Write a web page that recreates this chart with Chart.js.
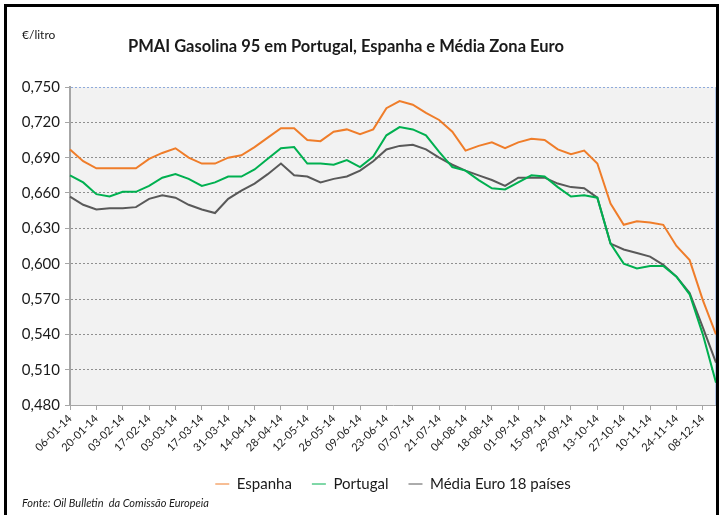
<!DOCTYPE html>
<html>
<head>
<meta charset="utf-8">
<script src="https://cdn.jsdelivr.net/npm/chart.js@4/dist/chart.umd.min.js"></script>
<style>
html,body{margin:0;padding:0;background:#fff;overflow:hidden}
#wrap{position:relative;width:721px;height:515px}
</style>
</head>
<body>
<div id="wrap"><canvas id="c" width="721" height="515"></canvas></div>
<script>
// ---- data (weekly prices, €/litro) ----
const weeks = ["06-01-14","13-01-14","20-01-14","27-01-14","03-02-14","10-02-14","17-02-14","24-02-14",
  "03-03-14","10-03-14","17-03-14","24-03-14","31-03-14","07-04-14","14-04-14","21-04-14","28-04-14",
  "05-05-14","12-05-14","19-05-14","26-05-14","02-06-14","09-06-14","16-06-14","23-06-14","30-06-14",
  "07-07-14","14-07-14","21-07-14","28-07-14","04-08-14","11-08-14","18-08-14","25-08-14","01-09-14",
  "08-09-14","15-09-14","22-09-14","29-09-14","06-10-14","13-10-14","20-10-14","27-10-14","03-11-14",
  "10-11-14","17-11-14","24-11-14","01-12-14","08-12-14","15-12-14"];
const espanha = [0.697,0.687,0.681,0.681,0.681,0.681,0.689,0.694,0.698,0.690,0.685,0.685,0.690,0.692,
  0.699,0.707,0.715,0.715,0.705,0.704,0.712,0.714,0.710,0.714,0.732,0.738,0.735,0.728,0.722,0.712,
  0.696,0.700,0.703,0.698,0.703,0.706,0.705,0.697,0.693,0.696,0.685,0.651,0.633,0.636,0.635,0.633,
  0.615,0.603,0.569,0.540];
const portugal = [0.675,0.669,0.659,0.657,0.661,0.661,0.666,0.673,0.676,0.672,0.666,0.669,0.674,0.674,
  0.680,0.689,0.698,0.699,0.685,0.685,0.684,0.688,0.682,0.691,0.709,0.716,0.714,0.709,0.695,0.682,
  0.679,0.671,0.664,0.663,0.669,0.675,0.674,0.665,0.657,0.658,0.656,0.617,0.600,0.596,0.598,0.598,
  0.589,0.574,0.540,0.499];
const mediaEuro = [0.657,0.650,0.646,0.647,0.647,0.648,0.655,0.658,0.656,0.650,0.646,0.643,0.655,0.662,
  0.668,0.676,0.685,0.675,0.674,0.669,0.672,0.674,0.679,0.687,0.697,0.700,0.701,0.697,0.690,0.684,
  0.679,0.675,0.671,0.666,0.673,0.673,0.673,0.668,0.665,0.664,0.656,0.617,0.612,0.609,0.606,0.599,
  0.589,0.575,0.546,0.516];
const seriesNames = ["Espanha","Portugal","Média Euro 18 países"];
const yMin = 0.48, yMax = 0.75, yStep = 0.03;
const titleText = "PMAI Gasolina 95 em Portugal, Espanha e Média Zona Euro";
const unitText = "€/litro";
const sourceText = "Fonte: Oil Bulletin  da Comissão Europeia";

const FONT = "Lato, 'Open Sans', sans-serif";

const decor = {
  id: 'decor',
  beforeDraw(chart) {
    const {ctx, chartArea: a} = chart;
    ctx.save();
    ctx.fillStyle = '#ffffff';
    ctx.fillRect(0, 0, chart.width, chart.height);
    ctx.fillStyle = '#f2f2f2';
    ctx.fillRect(a.left, a.top, a.right - a.left, a.bottom - a.top);
    ctx.restore();
  },
  beforeDatasetsDraw(chart) {
    const {ctx, chartArea: a} = chart;
    ctx.save();
    ctx.strokeStyle = '#b4c7e7';
    ctx.lineWidth = 2;
    ctx.beginPath();
    ctx.moveTo(a.right, a.top);
    ctx.lineTo(a.right, a.bottom);
    ctx.stroke();
    ctx.restore();
  },
  afterDraw(chart) {
    const ctx = chart.ctx;
    ctx.save();
    ctx.fillStyle = '#1a1a1a';
    ctx.textBaseline = 'middle';
    ctx.textAlign = 'left';
    ctx.font = "bold 16.5px " + FONT;
    ctx.fillText(titleText, 128, 47);
    ctx.font = "12px " + FONT;
    ctx.fillText(unitText, 22, 35);
    ctx.font = "italic 11px " + FONT;
    ctx.fillText(sourceText, 22, 503);
    ctx.strokeStyle = '#000';
    ctx.lineWidth = 3;
    ctx.strokeRect(5.5, 5.5, 712, 530);
    ctx.restore();
  }
};

new Chart(document.getElementById('c'), {
  type: 'line',
  data: {
    labels: weeks,
    datasets: [
      {label: seriesNames[0], data: espanha, borderColor: '#ef7d2a', backgroundColor: '#ef7d2a'},
      {label: seriesNames[1], data: portugal, borderColor: '#00b050', backgroundColor: '#00b050'},
      {label: seriesNames[2], data: mediaEuro, borderColor: '#595959', backgroundColor: '#595959'}
    ]
  },
  options: {
    responsive: false,
    animation: false,
    devicePixelRatio: 1,
    elements: {
      line: {borderWidth: 2, tension: 0, fill: false},
      point: {radius: 0, hoverRadius: 0}
    },
    layout: {padding: {top: 87, left: 0, right: 5, bottom: 13.5}},
    plugins: {
      title: {display: false},
      tooltip: {enabled: false},
      legend: {
        position: 'bottom',
        fullSize: false,
        labels: {
          usePointStyle: true,
          pointStyle: 'line',
          pointStyleWidth: 14,
          padding: 20,
          color: '#1a1a1a',
          font: {family: FONT, size: 15}
        }
      }
    },
    scales: {
      x: {
        type: 'category',
        offset: false,
        afterFit(s) { s.height = 51.5; s.paddingRight = 0; s.paddingLeft = 0; },
        grid: {
          drawOnChartArea: false,
          drawTicks: true,
          tickLength: 5,
          color: (c) => (c.index % 2 === 0 ? '#a6a6a6' : 'rgba(0,0,0,0)')
        },
        border: {display: true, color: '#a6a6a6', width: 1},
        ticks: {
          autoSkip: false,
          minRotation: 45,
          maxRotation: 45,
          padding: 2,
          color: '#1a1a1a',
          font: {family: FONT, size: 11},
          callback: function (v, i) { return i % 2 === 0 ? this.getLabelForValue(v) : ''; }
        }
      },
      y: {
        min: yMin,
        max: yMax,
        afterFit(s) { s.width = 70; },
        grid: {
          color: (c) => (c.tick && Math.abs(c.tick.value - yMax) < 1e-6 ? '#8eaadb' : '#8f8f8f'),
          lineWidth: 1,
          tickLength: 5,
          tickColor: '#a6a6a6'
        },
        border: {display: true, color: '#a6a6a6', width: 2, dash: [2, 2]},
        ticks: {
          stepSize: yStep,
          padding: 5,
          color: '#1a1a1a',
          font: {family: FONT, size: 15},
          callback: (v) => v.toFixed(3).replace('.', ',')
        }
      }
    }
  },
  plugins: [decor]
});
</script>
</body>
</html>
